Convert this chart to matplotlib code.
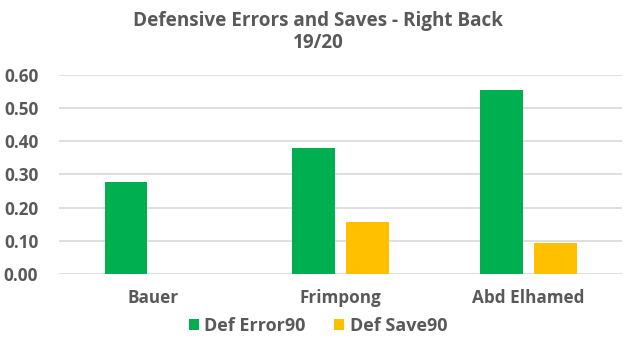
import numpy as np
import matplotlib
matplotlib.use('agg')
import matplotlib.pyplot as plt

# data
players = ["Bauer", "Frimpong", "Abd Elhamed"]
def_error90 = [0.278, 0.380, 0.555]
def_save90 = [0.0, 0.155, 0.094]
series_names = ["Def Error90", "Def Save90"]

green = "#00B050"
yellow = "#FFC000"
grey = "#595959"
wt = 'bold'

plt.rcParams['font.family'] = ['Open Sans', 'DejaVu Sans']

fig = plt.figure(figsize=(6.36, 3.52), dpi=100)
ax = fig.add_axes([0.093, 0.222, 0.885, 0.565])

x = np.arange(len(players))
width = 0.228
ax.bar(x - 0.144, def_error90, width, color=green, label=series_names[0], zorder=3)
ax.bar(x + 0.144, def_save90, width, color=yellow, label=series_names[1], zorder=3)

ax.set_xlim(-0.5, len(players) - 0.5)
ax.set_ylim(0, 0.6)
yt = np.arange(0, 0.61, 0.1)
ax.set_yticks(yt)
ax.set_yticklabels(["%.2f" % v for v in yt])
ax.set_xticks(x)
ax.set_xticklabels(players)
ax.grid(axis='y', color='#D9D9D9', linewidth=1.2, zorder=0)
for s in ax.spines.values():
    s.set_visible(False)
ax.tick_params(length=0, colors=grey, labelsize=12.3)
ax.tick_params(axis='y', pad=15)
ax.tick_params(axis='x', pad=11)
for lab in ax.get_xticklabels() + ax.get_yticklabels():
    lab.set_fontweight(wt)

fig.text(0.5, 0.97, "Defensive Errors and Saves - Right Back\n19/20", ha='center', va='top',
         fontsize=13.6, fontweight=wt, color=grey, linespacing=1.15)

leg = fig.legend(loc='center', bbox_to_anchor=(0.5, 0.073), ncol=2, frameon=False,
                 handlelength=0.55, handleheight=0.55, handletextpad=0.3, columnspacing=1.6,
                 prop={'size': 13, 'weight': wt})
for t in leg.get_texts():
    t.set_color(grey)

fig.savefig("out.png", dpi=100)
